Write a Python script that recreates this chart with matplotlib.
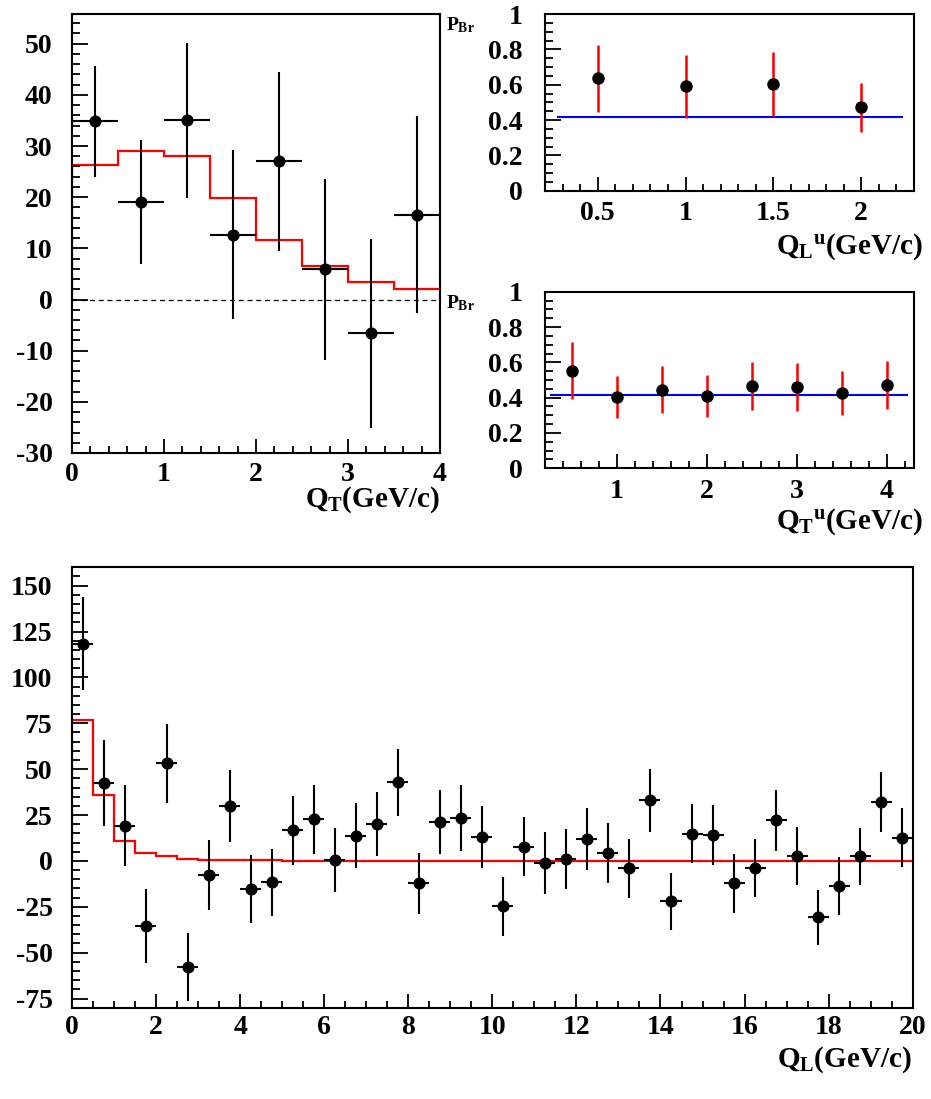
import numpy as np
import matplotlib
matplotlib.use('Agg')
import matplotlib.pyplot as plt
from matplotlib.ticker import MultipleLocator, FuncFormatter

plt.rcParams['font.family'] = ['Liberation Serif', 'DejaVu Serif']
plt.rcParams['font.weight'] = 'bold'
plt.rcParams['axes.unicode_minus'] = False
plt.rcParams['mathtext.fontset'] = 'custom'
plt.rcParams['mathtext.rm'] = 'Liberation Serif:bold'
plt.rcParams['mathtext.it'] = 'Liberation Serif:bold'
plt.rcParams['mathtext.bf'] = 'Liberation Serif:bold'

# --- data: Q_T distribution (top left) ---
qt_x = [0.25, 0.75, 1.25, 1.75, 2.25, 2.75, 3.25, 3.75]
qt_y = [34.8, 19.0, 35.0, 12.7, 27.0, 5.9, -6.6, 16.6]
qt_err = [10.8, 12.1, 15.1, 16.5, 17.5, 17.7, 18.5, 19.2]
qt_edges = [0, 0.5, 1.0, 1.5, 2.0, 2.5, 3.0, 3.5, 4.0]
qt_mc = [26.3, 29.1, 28.1, 19.9, 11.7, 6.5, 3.5, 2.15]

# --- P_Br vs Q_L^u (top right) ---
pl_x = [0.5, 1.0, 1.5, 2.0]
pl_y = [0.636, 0.590, 0.604, 0.472]
pl_err = [0.19, 0.177, 0.18, 0.14]
pl_fit = 0.415

# --- P_Br vs Q_T^u (middle right) ---
pt_x = [0.5, 1.0, 1.5, 2.0, 2.5, 3.0, 3.5, 4.0]
pt_y = [0.553, 0.404, 0.445, 0.409, 0.466, 0.460, 0.425, 0.472]
pt_err = [0.16, 0.118, 0.132, 0.12, 0.138, 0.135, 0.125, 0.138]
pt_fit = 0.417

# --- Q_L distribution (bottom) ---
ql_x = [0.25, 0.75, 1.25, 1.75, 2.25, 2.75, 3.25, 3.75, 4.25, 4.75,
        5.25, 5.75, 6.25, 6.75, 7.25, 7.75, 8.25, 8.75, 9.25, 9.75,
        10.25, 10.75, 11.25, 11.75, 12.25, 12.75, 13.25, 13.75, 14.25, 14.75,
        15.25, 15.75, 16.25, 16.75, 17.25, 17.75, 18.25, 18.75, 19.25, 19.75]
ql_y = [118.3, 42.4, 19.2, -35.6, 53.1, -57.9, -7.6, 29.9, -15.2, -11.6,
        16.7, 22.6, 0.5, 13.6, 20.1, 42.8, -12.2, 21.2, 23.4, 13.1,
        -24.7, 7.6, -1.1, 1.1, 12.0, 4.4, -4.0, 33.0, -22.1, 14.9,
        14.0, -12.3, -3.8, 22.1, 2.7, -30.8, -13.8, 2.5, 32.1, 12.7]
ql_err = [25.3, 23.5, 22.2, 20.1, 21.5, 18.5, 19.1, 19.7, 18.5, 18.3,
          18.7, 18.8, 17.3, 17.7, 17.6, 18.3, 16.6, 17.6, 17.8, 16.7,
          16.0, 16.1, 16.7, 16.5, 16.8, 16.3, 16.1, 17.0, 15.6, 16.2,
          16.5, 16.0, 15.9, 16.5, 15.7, 14.9, 15.9, 15.6, 16.5, 16.0]
ql_edges = np.arange(0, 20.5, 0.5)
ql_mc = [76.9, 35.9, 10.7, 4.2, 2.4, 1.1, 0.6, 0.4, 0.5, 0.3,
         0.2, 0.2, 0.1, 0.1, 0.1, 0.1, 0.1, 0.1, 0.0, 0.0,
         0.0, 0.0, 0.0, 0.0, 0.0, 0.0, 0.0, 0.0, 0.0, 0.0,
         0.0, 0.0, 0.0, 0.0, 0.0, 0.0, 0.0, 0.0, 0.0, 0.0]

W, H = 931, 1099
fig = plt.figure(figsize=(W / 100, H / 100), dpi=100)


def box(l, t, r, b):
    return fig.add_axes([l / W, 1 - b / H, (r - l) / W, (b - t) / H])


def ftext(x, y, s, **kw):
    fig.text(x / W, 1 - y / H, s, **kw)


fmt = FuncFormatter(lambda v, p: '%g' % v)


def style(ax, xmaj, xmin, ymaj, ymin, xpad, ypad):
    ax.xaxis.set_major_locator(MultipleLocator(xmaj))
    ax.xaxis.set_minor_locator(MultipleLocator(xmin))
    ax.yaxis.set_major_locator(MultipleLocator(ymaj))
    ax.yaxis.set_minor_locator(MultipleLocator(ymin))
    ax.xaxis.set_major_formatter(fmt)
    ax.yaxis.set_major_formatter(fmt)
    ax.tick_params(which='both', direction='in', top=False, right=False,
                   labelsize=20, width=1.3)
    ax.tick_params(axis='y', which='major', length=11.5, pad=ypad)
    ax.tick_params(axis='y', which='minor', length=6)
    ax.tick_params(axis='x', which='major', length=10, pad=xpad)
    ax.tick_params(axis='x', which='minor', length=5)
    for s in ax.spines.values():
        s.set_linewidth(1.5)


# top left
ax1 = box(72, 14, 440, 453)
ax1.stairs(qt_mc, qt_edges, baseline=0, color='red', lw=1.6)
ax1.axhline(0, color='k', lw=0.9, ls=(0, (4, 3)))
ax1.errorbar(qt_x, qt_y, yerr=qt_err, xerr=0.25, fmt='o', color='k',
             ms=7.7, elinewidth=1.5, capsize=0)
ax1.set_xlim(0, 4)
ax1.set_ylim(-30, 55.8)
style(ax1, 1, 0.2, 10, 2, 6.5, 14)
ftext(440, 507, r'$Q_T$(GeV/c)', ha='right', va='baseline', fontsize=21)

# top right
ax2 = box(545, 14, 914, 190.7)
ax2.hlines(pl_fit, 0.27, 2.24, color='blue', lw=1.5)
ax2.errorbar(pl_x, pl_y, yerr=pl_err, fmt='o', color='k', ecolor='red',
             ms=8, elinewidth=1.8, capsize=0)
ax2.set_xlim(0.2, 2.3)
ax2.set_ylim(0, 1)
style(ax2, 0.5, 0.1, 0.2, 0.05, 7.5, 16)
ftext(923, 254, r'$Q_L{}^u$(GeV/c)', ha='right', va='baseline', fontsize=21)
ftext(446, 30, r'$P_{Br}$', ha='left', va='baseline', fontsize=14)

# middle right
ax3 = box(545, 291.7, 914, 468.3)
ax3.hlines(pt_fit, 0.26, 4.23, color='blue', lw=1.5)
ax3.errorbar(pt_x, pt_y, yerr=pt_err, fmt='o', color='k', ecolor='red',
             ms=8, elinewidth=1.8, capsize=0)
ax3.set_xlim(0.2, 4.3)
ax3.set_ylim(0, 1)
style(ax3, 1, 0.2, 0.2, 0.05, 7.5, 16)
ftext(923, 529, r'$Q_T{}^u$(GeV/c)', ha='right', va='baseline', fontsize=21)
ftext(446, 308, r'$P_{Br}$', ha='left', va='baseline', fontsize=14)

# bottom
ax4 = box(72, 567.3, 912.7, 1007.7)
ax4.stairs(ql_mc, ql_edges, baseline=0, color='red', lw=1.6)
ax4.errorbar(ql_x, ql_y, yerr=ql_err, xerr=0.25, fmt='o', color='k',
             ms=7.7, elinewidth=1.5, capsize=0)
ax4.set_xlim(0, 20)
ax4.set_ylim(-80, 160)
style(ax4, 2, 0.5, 25, 5, 5.5, 14)
ftext(912, 1067, r'$Q_L$(GeV/c)', ha='right', va='baseline', fontsize=21)

fig.savefig('out.png', dpi=100)
